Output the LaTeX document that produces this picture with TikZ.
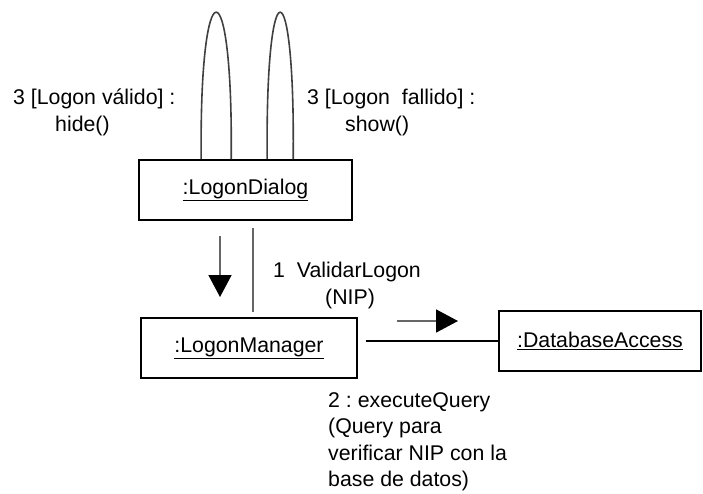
\documentclass[tikz,border=0pt]{standalone}
\usepackage{fontspec}
\setmainfont{Liberation Sans}
\usetikzlibrary{arrows.meta, calc}
\tikzset{
  obj/.style={draw=black, line width=1.6pt, minimum height=60pt, inner sep=0pt,
    font=\fontsize{21.3}{26}\selectfont},
  lnk/.style={line width=1.6pt, draw=black!60},
  loop/.style={line width=1.6pt, draw=black!75},
  arr/.style={-{Triangle[length=22pt,width=23pt,color=black]}, line width=1.6pt, draw=black!60},
  lab/.style={align=left, inner sep=0pt, anchor=north west, font=\fontsize{21.3}{26.5}\selectfont}
}
\frenchspacing

\begin{document}
\begin{tikzpicture}[x=1pt, y=-1pt]
\useasboundingbox (0,0) rectangle (703,493);

% objects
\node[obj, minimum width=213pt] (dlg) at (245.5,190) {\underline{:LogonDialog}};
\node[obj, minimum width=216pt] (mgr) at (249,348) {\underline{:LogonManager}};
\node[obj, minimum width=202pt] (dba) at (600,341) {\underline{:DatabaseAccess}};

% self links on the dialog
\draw[loop] ($(dlg.north west)+(63,0)$) .. controls +(-2,-196) and +(2,-196) .. ($(dlg.north west)+(93,0)$);
\draw[loop] ($(dlg.north west)+(129,0)$) .. controls +(-2,-196) and +(2,-196) .. ($(dlg.north west)+(155,0)$);

% links
\coordinate (v) at ($(dlg.south)+(7.5,0)$);
\draw[lnk, shorten <=7pt, shorten >=5pt] (v) -- (v |- mgr.north);
\draw[lnk, draw=black, shorten <=8pt] (dba.west -| mgr.east) -- (dba.west);

% messages
\coordinate (m1) at (220,236);
\draw[arr] (m1) -- ++(0,61);
\coordinate (m2) at (397,321);
\draw[arr] (m2) -- ++(61,0);

\node[lab] (hide) at (13,89) {3 [Logon válido] :\\\hspace*{42pt}hide()};
\node[lab] (show) at (307,89) {3 [Logon\ \ fallido] :\\\hspace*{38pt}show()};
\node[lab] (val) at (273,262) {1\ \ ValidarLogon\\\hspace*{52pt}(NIP)};
\node[lab] (qry) at (328,392) {2 : executeQuery\\(Query para\\verificar NIP con la\\base de datos)};
\end{tikzpicture}
\end{document}
